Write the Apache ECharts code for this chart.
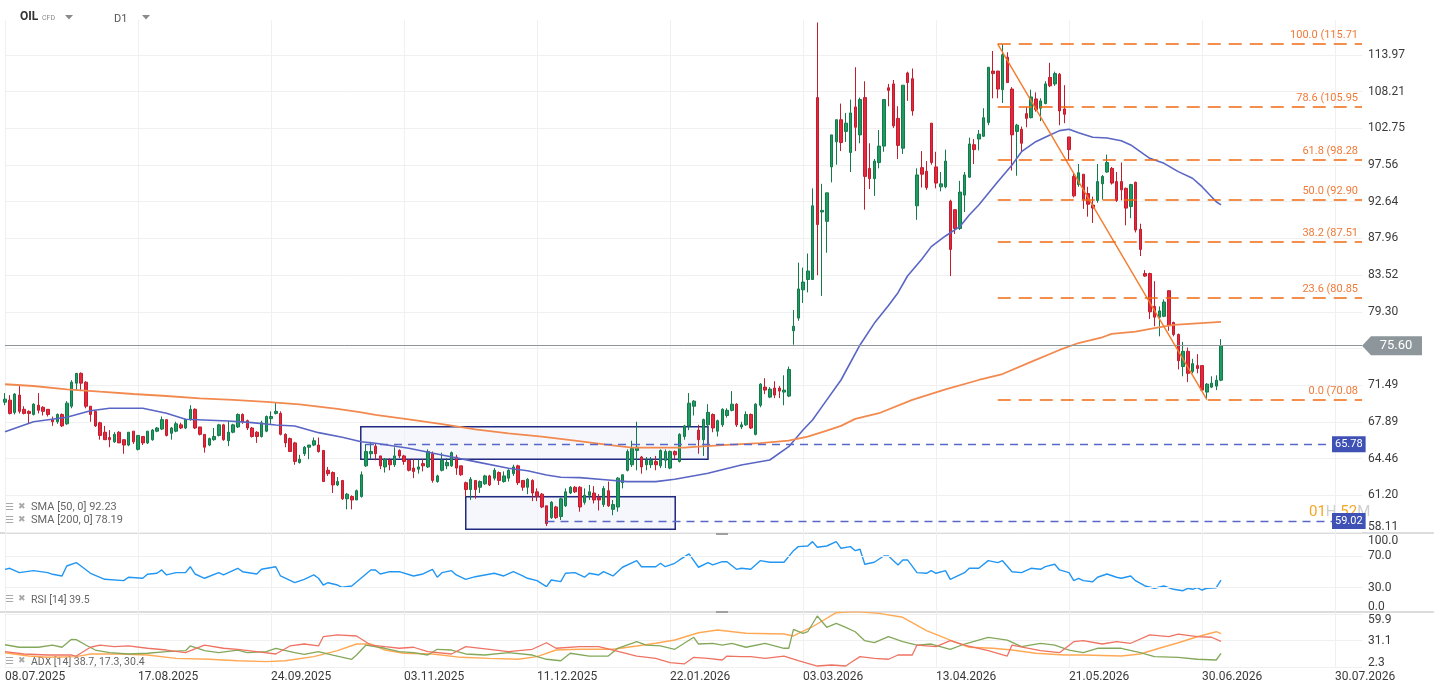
<!DOCTYPE html>
<html><head><meta charset="utf-8">
<script src="https://cdn.jsdelivr.net/npm/echarts/dist/echarts.min.js"></script>
<style>html,body{margin:0;padding:0;background:#fff}#c{width:1434px;height:694px}</style>
</head><body><div id="c"></div>
<script>
// ---------- data ----------
const dateLabels = ['08.07.2025','17.08.2025','24.09.2025','03.11.2025','11.12.2025','22.01.2026','03.03.2026','13.04.2026','21.05.2026','30.06.2026','30.07.2026'];
const barsPerLabel = 28;
const priceTickLabels = ['58.11','61.20','64.46','67.89','71.49','75.30','79.30','83.52','87.96','92.64','97.56','102.75','108.21','113.97'];
const rsiTickLabels = {0: '0.0', 30: '30.0', 70: '70.0', 100: '100.0'};
const adxTickLabels = ['2.3', '31.1', '59.9'];
// candles: [open, close, low, high]
const candles = [
[69.8,70.1,69.5,70.7],[70.0,68.7,68.6,70.5],[68.8,70.6,68.6,70.7],[70.5,68.9,68.7,71.4],[69.1,68.7,68.6,69.4],
[68.9,68.7,67.7,69.0],[68.6,69.6,68.5,69.7],[69.5,69.0,68.7,70.7],[69.3,68.9,68.5,69.4],[69.1,68.6,68.4,69.1],
[68.1,67.9,67.5,68.4],[67.9,68.6,67.7,68.7],[68.6,67.5,67.4,68.7],[67.7,69.7,67.6,69.9],[69.4,71.8,69.2,72.0],
[71.7,72.7,71.0,72.7],[72.7,71.7,70.9,72.8],[71.8,69.4,69.2,71.9],[69.4,68.6,67.9,69.4],[68.9,67.5,67.4,69.0],
[67.8,66.6,66.2,67.9],[66.9,66.2,66.2,67.5],[66.4,66.2,65.5,67.1],[66.0,66.7,65.9,66.9],[66.9,65.9,65.9,67.0],
[66.2,65.7,64.9,66.2],[65.7,66.9,65.6,66.9],[67.0,66.0,65.8,67.0],[65.3,66.6,65.2,66.6],[66.5,65.9,65.7,66.5],
[65.9,67.0,65.8,67.0],[66.2,67.1,66.1,67.2],[67.0,67.3,66.9,67.4],[67.2,68.1,67.1,68.4],[68.1,66.6,66.5,68.1],
[66.8,67.3,66.2,67.4],[67.0,67.7,66.9,67.9],[67.6,67.3,67.2,67.8],[67.3,68.1,67.2,68.2],[68.1,69.1,68.0,69.5],
[69.1,67.3,67.2,69.2],[67.4,66.7,66.6,67.4],[66.7,65.5,65.0,66.7],[65.7,66.3,65.6,66.4],[66.2,66.5,66.1,67.3],
[66.6,67.6,66.5,67.7],[67.6,66.2,66.1,67.7],[66.1,66.9,65.6,68.0],[66.9,67.6,66.8,67.7],[67.4,68.6,67.3,68.7],
[68.6,67.9,67.7,68.7],[68.0,67.3,67.1,68.1],[67.3,66.5,66.4,67.4],[66.9,66.5,65.9,67.0],[66.5,67.8,66.4,68.0],
[67.0,68.4,66.9,68.5],[68.2,68.4,67.7,68.9],[68.7,68.9,68.6,69.8],[68.7,66.7,66.6,68.9],[66.7,65.9,65.5,66.8],
[66.3,65.1,65.1,66.4],[65.9,64.2,63.9,66.0],[64.1,64.4,64.0,64.8],[64.9,65.5,64.7,65.6],[65.5,65.7,64.4,65.7],
[65.7,66.1,65.6,66.4],[65.7,65.1,65.0,66.4],[65.2,62.4,62.4,65.2],[63.4,63.1,62.9,63.7],[63.2,62.1,61.4,63.3],
[62.1,62.4,62.0,62.8],[62.5,60.9,60.8,62.5],[60.9,61.3,60.0,61.4],[61.1,60.8,60.0,61.2],[60.8,61.6,60.8,61.7],
[61.1,63.0,61.0,63.3],[63.8,65.1,63.7,65.8],[64.9,65.1,64.4,66.0],[65.6,64.9,64.3,65.8],[64.7,63.8,63.5,64.7],
[63.7,64.4,63.2,64.5],[64.3,63.9,63.4,64.5],[63.9,64.7,63.7,65.5],[65.2,64.7,64.5,65.3],[64.7,64.2,63.9,64.8],
[64.3,63.4,63.3,64.4],[63.6,63.3,62.7,64.4],[63.5,63.7,63.1,64.4],[64.0,63.8,63.3,64.4],[63.7,65.1,63.6,65.3],
[64.9,62.5,62.3,65.1],[62.4,62.9,62.3,63.0],[63.4,64.3,63.3,65.0],[63.8,64.1,63.5,64.5],[63.8,65.0,63.7,65.1],
[64.6,63.6,63.0,64.8],[63.8,63.0,62.9,63.8],[62.3,61.7,61.1,62.4],[61.7,62.6,60.8,62.8],[62.5,61.7,60.9,62.5],
[61.9,62.4,61.4,62.5],[62.2,62.9,62.1,63.0],[62.9,62.1,62.0,63.0],[62.7,63.4,62.5,63.6],[63.2,62.5,62.1,63.3],
[62.4,62.9,62.3,63.3],[62.7,63.4,62.4,63.5],[63.1,63.7,62.9,63.9],[63.8,62.3,62.1,63.9],[62.5,61.9,61.6,62.5],
[61.9,62.6,61.3,62.7],[62.5,61.4,60.7,62.6],[61.5,61.1,60.7,61.8],[61.3,60.2,60.1,61.4],[60.3,58.8,58.6,60.3],
[59.3,60.6,59.2,60.7],[60.2,59.3,59.2,60.3],[59.4,60.9,59.1,61.0],[60.3,61.5,60.2,61.8],[61.4,61.9,61.3,62.0],
[61.9,61.5,61.4,62.0],[61.9,60.2,59.8,62.0],[60.6,61.2,60.4,61.8],[61.2,61.5,60.8,62.1],[61.4,60.8,60.5,62.0],
[61.0,60.8,59.9,61.3],[60.4,61.8,60.2,62.0],[61.6,60.3,60.2,62.4],[60.0,60.4,59.5,60.8],[60.2,62.7,59.8,62.8],
[62.3,63.0,61.8,63.0],[63.4,65.1,63.3,65.3],[63.9,65.4,63.7,66.1],[65.2,65.5,63.4,67.9],[64.6,63.7,63.1,64.7],
[63.9,64.3,63.4,64.6],[63.9,64.3,63.6,64.6],[64.2,63.9,63.4,64.7],[63.8,65.2,63.6,65.3],[64.3,65.1,63.6,65.3],
[63.6,65.1,63.5,65.2],[65.1,64.8,64.4,65.2],[64.2,66.7,64.1,66.8],[66.5,67.5,66.2,67.6],[67.5,69.7,67.1,70.7],
[69.4,69.9,68.5,70.0],[67.1,66.2,64.9,67.6],[66.2,68.1,64.7,68.2],[67.6,68.8,67.4,69.6],[68.6,67.3,66.9,68.7],
[67.0,68.0,66.5,68.1],[67.6,69.1,67.4,69.2],[68.5,69.0,68.3,69.2],[69.0,69.6,68.9,70.9],[69.6,67.6,67.4,69.7],
[67.4,67.6,67.2,67.9],[67.6,68.6,67.5,68.9],[68.6,67.3,67.2,68.7],[66.7,69.6,66.6,69.7],[69.5,71.6,69.3,71.7],
[71.3,71.0,70.6,72.2],[70.3,71.1,70.2,71.3],[71.2,70.5,70.2,71.9],[71.2,70.9,70.2,71.4],[70.8,71.0,69.5,72.5],
[70.4,73.1,70.3,73.4],[77.2,77.7,75.7,79.5],[78.6,81.9,78.3,85.0],[81.8,82.7,80.3,84.4],[83.0,84.0,81.5,86.1],
[83.0,92.1,83.0,94.4],[107.3,89.7,83.5,119.3],[91.3,91.5,81.1,95.0],[90.1,93.8,86.2,93.8],[97.3,101.8,95.2,101.8],
[100.8,104.0,97.6,104.0],[104.0,100.7,99.5,106.4],[102.3,103.5,100.8,105.0],[99.3,105.0,96.6,107.0],[105.9,102.9,99.5,112.0],
[101.8,107.0,100.6,107.3],[107.3,96.0,91.6,109.8],[97.1,95.7,94.3,100.6],[95.7,98.1,93.4,98.4],[97.9,100.2,97.1,102.5],
[100.2,107.0,99.4,107.0],[108.8,108.4,106.0,109.4],[109.4,103.1,102.8,110.0],[104.2,100.3,98.4,106.0],[99.9,109.2,99.1,109.2],
[111.1,109.6,106.8,111.3],[110.2,105.3,104.6,111.8],[92.1,96.2,90.3,97.1],[97.2,96.3,94.5,99.5],[96.7,94.5,94.2,98.1],
[103.5,97.9,97.6,103.5],[97.3,95.1,94.4,99.4],[94.6,95.0,94.0,96.6],[94.6,98.1,94.4,99.7],[92.7,86.6,83.4,92.9],
[91.6,89.2,88.5,91.6],[89.2,93.9,89.0,95.4],[93.5,96.2,91.3,96.6],[95.9,100.5,95.8,101.4],[100.4,99.7,97.7,101.2],
[101.2,101.9,99.6,102.5],[101.6,104.3,101.5,105.7],[103.6,112.0,103.2,112.0],[111.4,111.0,107.2,114.6],[111.4,108.6,107.2,111.4],
[108.5,114.0,106.5,115.71],[113.6,109.6,109.6,114.4],[108.6,101.8,96.8,108.9],[102.3,103.2,96.1,103.4],[102.6,100.6,99.5,103.0],
[104.9,104.2,102.9,105.9],[104.3,107.4,104.2,108.5],[107.1,105.5,105.2,108.1],[105.7,106.8,103.8,107.2],[106.4,109.4,106.3,109.8],
[110.4,109.1,108.9,112.7],[109.4,111.0,109.1,111.3],[110.9,105.3,103.2,111.1],[105.6,104.8,103.5,109.2],[101.5,99.7,98.3,101.5],
[96.0,93.4,93.2,96.4],[94.9,96.5,94.6,97.7],[96.3,92.9,91.7,96.3],[93.7,92.3,90.7,94.6],[92.2,91.8,89.9,93.3],
[92.8,95.3,92.5,97.7],[95.0,96.0,92.9,96.2],[96.6,97.9,96.5,99.0],[97.1,95.1,94.9,97.3],[95.3,92.8,92.6,96.6],
[95.3,94.2,92.8,97.9],[94.4,91.8,89.6,94.5],[92.0,94.9,90.5,95.0],[95.2,89.0,88.7,95.3],[89.1,86.6,85.8,89.8],
[83.7,83.4,83.3,84.1],[83.7,79.3,78.5,83.8],[79.9,78.7,77.7,82.8],[78.7,79.4,76.6,79.9],[78.8,80.4,78.7,80.7],
[81.7,77.8,77.2,81.7],[78.1,76.8,76.6,78.2],[76.8,74.0,73.1,76.9],[73.4,75.0,72.4,76.0],[75.0,72.7,71.8,75.4],
[72.9,73.7,72.7,74.2],[73.5,73.2,72.7,74.7],[73.5,71.0,70.9,73.5],[70.8,71.6,70.08,71.7],[71.3,71.7,71.2,72.4],
[71.4,72.0,71.0,72.5],[72.0,75.6,71.9,76.3]
];
// moving averages: [bar index, value]
const sma50 = [[0,66.95],[6,67.90],[13,68.33],[18,68.96],[22,69.20],[29,69.20],[34,68.72],[38,68.13],[47,67.97],[52,67.81],[57,67.59],[61,67.49],[66,66.86],[71,66.42],[75,66.01],[78,65.86],[85,65.40],[92,64.79],[99,64.18],[106,63.58],[110,63.36],[114,62.98],[117,62.78],[121,62.75],[127,62.54],[131,62.39],[137,62.39],[141,62.60],[146,62.98],[148,63.13],[155,63.88],[161,64.33],[165,65.55],[168,67.11],[170,68.07],[172,69.36],[176,72.02],[180,75.67],[183,78.02],[186,80.0],[188,81.47],[190,83.41],[193,85.40],[195,86.94],[198,88.26],[201,89.43],[203,90.91],[205,92.20],[209,95.29],[212,97.57],[214,99.41],[217,100.83],[220,101.79],[222,102.41],[224,102.61],[226,102.12],[229,101.45],[232,101.35],[235,100.97],[237,100.36],[241,98.49],[244,97.79],[247,96.65],[250,95.75],[252,94.62],[255,92.63],[256,92.23]];
const sma200 = [[0,71.59],[6,71.41],[13,71.08],[20,70.84],[27,70.61],[34,70.41],[41,70.18],[48,70.02],[55,69.82],[62,69.59],[70,69.15],[75,68.81],[78,68.55],[85,68.13],[92,67.68],[99,67.18],[106,66.80],[113,66.48],[120,66.11],[127,65.71],[132,65.46],[138,65.46],[143,65.46],[146,65.55],[152,65.71],[159,65.87],[165,66.11],[169,66.49],[173,67.05],[176,67.50],[179,68.17],[184,68.72],[191,70.02],[198,71.08],[205,72.02],[210,72.63],[216,73.88],[222,75.14],[226,75.88],[231,76.50],[233,76.86],[238,77.11],[242,77.48],[246,77.84],[251,78.02],[256,78.19]];
const rsi = [[0,53.2],[1,54.5],[3,49.0],[6,51.5],[9,49.0],[10,46.9],[12,44.8],[13,57.4],[15,61.6],[16,57.4],[18,48.2],[21,40.6],[25,38.9],[26,43.2],[29,41.9],[30,46.9],[32,48.2],[33,52.4],[34,46.1],[36,49.0],[38,49.0],[39,56.5],[40,47.3],[42,41.9],[45,49.0],[46,46.1],[49,54.5],[50,50.2],[53,47.3],[54,53.2],[57,56.5],[58,44.8],[61,36.3],[63,40.6],[65,46.1],[66,41.9],[67,33.4],[68,36.3],[70,33.4],[71,30.5],[73,32.2],[77,52.4],[78,52.4],[79,47.3],[81,50.2],[83,50.2],[86,44.8],[88,47.3],[90,53.2],[91,43.2],[92,49.0],[94,51.5],[95,46.1],[97,40.6],[99,43.9],[101,46.1],[103,48.2],[105,44.8],[107,50.2],[109,44.8],[110,41.9],[112,38.9],[114,31.3],[115,39.7],[117,37.6],[118,48.2],[120,49.0],[122,43.2],[123,48.2],[125,46.1],[126,50.2],[128,44.8],[130,55.8],[133,64.1],[134,56.5],[137,56.5],[138,60.8],[139,56.5],[141,60.8],[142,65.0],[144,72.6],[146,55.8],[148,61.6],[149,58.7],[151,62.8],[152,62.8],[154,53.2],[155,54.5],[157,53.2],[159,64.1],[161,62.1],[164,62.1],[166,76.7],[167,81.8],[169,82.6],[170,88.1],[171,81.0],[173,82.6],[175,88.1],[176,79.7],[178,81.8],[179,76.7],[180,78.5],[181,59.6],[183,62.1],[185,70.0],[186,70.0],[188,58.7],[189,65.0],[190,65.0],[192,49.0],[194,48.2],[195,51.5],[196,48.2],[198,51.5],[199,40.6],[202,49.0],[203,54.5],[205,54.5],[207,64.1],[209,61.6],[210,64.1],[212,50.2],[214,49.0],[216,54.5],[218,53.2],[219,56.5],[221,59.6],[222,52.4],[224,49.0],[225,38.9],[226,41.9],[227,38.9],[229,37.6],[230,43.2],[232,47.3],[234,43.2],[235,41.9],[237,44.8],[238,38.9],[240,32.2],[242,29.3],[244,32.2],[246,28.0],[248,26.2],[249,29.3],[250,28.0],[251,30.0],[252,27.1],[253,29.3],[255,30.0],[256,39.5]];
const adx = [[0,18.1],[5,14.5],[9,13.1],[15,13.8],[18,16.7],[24,16.7],[30,15.6],[36,12.0],[43,11.0],[49,9.4],[55,8.4],[59,9.4],[65,13.8],[70,20.3],[74,27.5],[77,27.5],[80,21.0],[84,17.5],[90,16.7],[96,13.1],[102,12.0],[108,11.0],[112,13.8],[116,21.0],[121,21.8],[128,21.8],[133,25.4],[137,28.3],[141,31.8],[146,39.7],[150,42.7],[156,39.1],[164,38.3],[166,36.2],[170,46.2],[175,61.4],[179,62.5],[184,60.7],[189,56.4],[194,41.9],[199,31.8],[203,24.0],[208,22.9],[212,21.0],[217,17.5],[223,15.6],[227,15.6],[235,14.5],[239,16.7],[243,22.9],[247,28.9],[251,35.4],[255,40.8],[256,38.7]];
const plusDI = [[0,26.7],[3,24.0],[7,24.0],[10,26.4],[12,24.0],[14,32.6],[15,32.2],[17,26.4],[19,21.0],[22,18.1],[26,16.7],[30,17.5],[34,19.2],[38,20.3],[39,25.4],[42,20.3],[45,18.1],[49,21.0],[51,18.1],[55,19.2],[57,22.9],[61,18.1],[63,16.4],[66,19.2],[69,15.6],[73,11.0],[74,15.6],[76,26.4],[80,22.9],[83,19.2],[86,18.1],[89,15.6],[91,21.8],[94,21.0],[97,16.7],[101,15.6],[106,18.1],[111,15.6],[114,11.0],[117,9.4],[119,17.5],[123,14.5],[127,14.5],[129,22.9],[133,30.0],[135,26.4],[138,25.4],[141,21.8],[145,34.8],[146,27.5],[149,28.3],[151,26.4],[153,28.3],[156,24.0],[160,28.3],[164,22.9],[165,22.9],[166,43.4],[168,39.1],[169,40.8],[171,57.8],[173,45.6],[175,49.9],[177,45.6],[179,40.8],[181,31.1],[183,28.9],[186,35.4],[189,30.0],[192,26.4],[195,27.5],[199,21.8],[202,27.5],[207,34.8],[211,31.8],[214,24.6],[218,28.3],[221,26.4],[224,21.0],[227,18.1],[230,22.9],[235,22.9],[239,18.1],[242,13.8],[247,13.1],[251,11.0],[255,10.2],[256,17.3]];
const minusDI = [[0,19.2],[4,16.7],[9,15.6],[14,15.6],[15,14.5],[18,24.0],[20,26.4],[23,24.6],[26,25.4],[30,22.9],[34,21.0],[38,18.1],[42,26.4],[46,22.9],[49,21.8],[53,19.2],[57,16.7],[60,25.4],[63,27.5],[66,25.4],[67,35.4],[70,37.3],[74,36.2],[77,26.4],[80,24.6],[83,22.9],[86,24.0],[89,19.2],[94,16.7],[97,24.6],[102,21.8],[106,19.2],[111,21.8],[114,28.9],[116,22.9],[121,24.6],[125,24.6],[128,21.0],[133,14.5],[137,12.0],[140,7.3],[143,5.9],[145,13.1],[148,12.0],[151,10.2],[152,14.5],[155,13.8],[157,13.8],[160,12.0],[164,14.5],[167,9.4],[171,3.7],[174,4.8],[177,3.7],[178,7.3],[180,13.8],[183,12.0],[186,11.0],[188,15.6],[191,15.6],[192,26.4],[196,24.6],[199,31.1],[202,26.4],[207,20.3],[211,14.5],[212,26.4],[218,20.3],[222,18.1],[225,30.0],[227,31.1],[231,27.5],[234,30.0],[237,28.3],[241,37.3],[245,35.4],[247,38.3],[251,35.4],[254,34.8],[256,30.4]];
const lastPrice = 75.60;
const fibHigh = 115.71, fibLow = 70.08, fibHighBar = 209, fibLowBar = 253;
const fibLevels = [100, 78.6, 61.8, 50, 38.2, 23.6, 0];
const supports = [{price: 65.78, fromBar: 76}, {price: 59.02, fromBar: 114}];
const zones = [{fromBar: 74.9, toBar: 148, top: 67.43, bottom: 64.39}, {fromBar: 97, toBar: 141.1, top: 61.08, bottom: 58.33}];
const legendSMA50 = 'SMA [50, 0] 92.23', legendSMA200 = 'SMA [200, 0] 78.19';
const legendRSI = 'RSI [14] 39.5', legendADX = 'ADX [14] 38.7, 17.3, 30.4';
// price axis: log scale, one tick step = x1.05318 starting at 58.11
const PRICE_BASE = 58.11, PRICE_STEP = 1.05318;
const ADX_BASE = 2.3, ADX_STEP = 28.8;

// ---------- layout ----------
const GL = 5, GR = 1362, BAR = 4.75;
const X_MAX = (GR - GL) / BAR;
const SUPPORT_END = (1332 - GL) / BAR;
const ys = p => Math.log(p / PRICE_BASE) / Math.log(PRICE_STEP);
const r2 = v => (Math.round((v + 1e-9) * 100) / 100).toFixed(2);
const FONT = 'Roboto';
const gridColor = '#f0f0f0';
const isInt = v => Math.abs(v - Math.round(v)) < 1e-6;

const chart = echarts.init(document.getElementById('c'), null, {renderer: 'canvas'});

const fibMarks = fibLevels.map(lv => {
  const p = fibLow + (fibHigh - fibLow) * lv / 100;
  return [{coord: [fibHighBar, ys(p)], lineStyle: {color: '#ef6a12', type: [13, 8], width: 1.5},
           label: {show: true, position: 'insideEndTop', formatter: lv.toFixed(1) + ' (' + r2(p), color: '#f07a38', fontSize: 11, fontFamily: FONT, distance: [4, 3]}},
          {coord: [X_MAX, ys(p)]}];
});
const supportMarks = supports.map(s => [
  {coord: [s.fromBar, ys(s.price)], lineStyle: {color: '#5868c6', type: [8, 6], width: 1.3},
   label: {show: true, position: 'end', formatter: s.price.toFixed(2), backgroundColor: '#3f51b5', color: '#fff', fontSize: 11, fontFamily: FONT, padding: [3, 3, 2, 3], distance: 0}},
  {coord: [SUPPORT_END, ys(s.price)]}]);
const trendMark = [{coord: [fibHighBar, ys(fibHigh)], lineStyle: {color: '#f47b2c', type: 'solid', width: 1.4}, label: {show: false}},
                   {coord: [fibLowBar, ys(fibLow)]}];
const lastMark = {yAxis: ys(lastPrice), lineStyle: {color: '#8d969b', type: 'solid', width: 1}, label: {show: false}};

const xAxisBase = (gi, showLabel) => ({
  type: 'value', gridIndex: gi, min: 0, max: X_MAX, interval: barsPerLabel,
  axisLine: {show: false}, axisTick: {show: false},
  splitLine: {show: true, showMaxLine: false, lineStyle: {color: gridColor, width: 1}},
  axisLabel: {show: showLabel, showMaxLabel: false, align: 'left', margin: 4, color: '#3b3b3b', fontSize: 12, fontFamily: FONT,
    formatter: v => (isInt(v / barsPerLabel) ? (dateLabels[Math.round(v / barsPerLabel)] || '') : '')}
});
const labelStyle = {color: '#3b3b3b', fontSize: 12, fontFamily: FONT};

const option = {
  animation: false,
  backgroundColor: '#ffffff',
  grid: [
    {left: GL, width: GR - GL, top: 20, height: 512},
    {left: GL, width: GR - GL, top: 532.2, height: 79.3},
    {left: GL, width: GR - GL, top: 612.3, height: 55}
  ],
  xAxis: [xAxisBase(0, false), xAxisBase(1, false), xAxisBase(2, true)],
  yAxis: [
    {type: 'value', gridIndex: 0, position: 'right', min: 0, max: 512 / 36.7, interval: 1,
     axisLine: {show: false}, axisTick: {show: false},
     splitLine: {show: true, showMaxLine: false, lineStyle: {color: gridColor}},
     axisLabel: Object.assign({}, labelStyle, {margin: 6, showMaxLabel: false,
       formatter: v => { if (!isInt(v)) return ''; const t = priceTickLabels[Math.round(v)] || ''; return Math.round(v) === 0 ? '{lo|' + t + '}' : t; },
       rich: {lo: Object.assign({}, labelStyle, {padding: [0, 0, 11, 0]})}})},
    {type: 'value', gridIndex: 1, position: 'right', min: 0, max: 100, interval: 10,
     axisLine: {show: false}, axisTick: {show: false}, splitLine: {show: false},
     axisLabel: Object.assign({}, labelStyle, {margin: 6,
       formatter: v => { const k = Math.round(v); const t = rsiTickLabels[k]; if (!t) return ''; return k === 100 ? '{hi|' + t + '}' : k === 0 ? '{lo|' + t + '}' : t; },
       rich: {hi: Object.assign({}, labelStyle, {padding: [17, 0, 0, 0]}), lo: Object.assign({}, labelStyle, {padding: [0, 0, 10, 0]})}})},
    {type: 'value', gridIndex: 2, position: 'right', min: 0, max: 55 / 0.924, interval: ADX_STEP,
     axisLine: {show: false}, axisTick: {show: false},
     splitLine: {show: true, showMaxLine: false, lineStyle: {color: gridColor}},
     axisLabel: Object.assign({}, labelStyle, {margin: 6, showMaxLabel: false,
       formatter: v => { const k = v / ADX_STEP; if (!isInt(k)) return ''; const i = Math.round(k); const t = adxTickLabels[i] || ''; if (i === 0) return '{lo|' + t + '}'; if (i === 2) return '{hi|' + t + '}'; return t; },
       rich: {hi: Object.assign({}, labelStyle, {padding: [12, 0, 0, 0]}), lo: Object.assign({}, labelStyle, {padding: [0, 0, 9, 0]})}})}
  ],
  series: [
    {type: 'candlestick', xAxisIndex: 0, yAxisIndex: 0, barWidth: 3, clip: false,
     encode: {x: 0, y: [1, 2, 3, 4]},
     data: candles.map((c, i) => [i, ys(c[0]), ys(c[1]), ys(c[2]), ys(c[3])]),
     itemStyle: {color: '#1e9a62', color0: '#e5283b', borderColor: '#137a4a', borderColor0: '#c11d2f', borderWidth: 1},
     markArea: {silent: true, itemStyle: {color: 'rgba(238,241,251,0.6)', borderColor: '#1f2a80', borderWidth: 1.5},
       data: zones.map(z => [{coord: [z.fromBar, ys(z.top)]}, {coord: [z.toBar, ys(z.bottom)]}])},
     markLine: {silent: true, symbol: ['none', 'none'], animation: false,
       data: [lastMark, trendMark].concat(fibMarks, supportMarks)},
     markPoint: {silent: true, symbol: 'path://M0,9 L9,0 L60,0 L60,18 L9,18 Z', symbolSize: [60, 19], symbolOffset: [30, 0],
       itemStyle: {color: '#8d969b'},
       label: {show: true, position: 'inside', color: '#fff', fontSize: 13, fontFamily: FONT, offset: [4, 0], formatter: lastPrice.toFixed(2)},
       data: [{coord: [X_MAX, ys(lastPrice)], value: lastPrice}]}
    },
    {type: 'line', xAxisIndex: 0, yAxisIndex: 0, showSymbol: false, data: sma50.map(d => [d[0], ys(d[1])]),
     lineStyle: {color: '#5a66c4', width: 1.6}, z: 3},
    {type: 'line', xAxisIndex: 0, yAxisIndex: 0, showSymbol: false, data: sma200.map(d => [d[0], ys(d[1])]),
     lineStyle: {color: '#f28a50', width: 1.8}, z: 3},
    {type: 'line', xAxisIndex: 1, yAxisIndex: 1, showSymbol: false, data: rsi,
     lineStyle: {color: '#2196f3', width: 1.4},
     markLine: {silent: true, symbol: ['none', 'none'], label: {show: false}, lineStyle: {color: gridColor, type: 'solid', width: 1},
       data: [{yAxis: 30}, {yAxis: 70}]}},
    {type: 'line', xAxisIndex: 2, yAxisIndex: 2, showSymbol: false, data: adx.map(d => [d[0], d[1] - ADX_BASE]),
     lineStyle: {color: '#ffa955', width: 1.4}},
    {type: 'line', xAxisIndex: 2, yAxisIndex: 2, showSymbol: false, data: plusDI.map(d => [d[0], d[1] - ADX_BASE]),
     lineStyle: {color: '#84a85a', width: 1.3}},
    {type: 'line', xAxisIndex: 2, yAxisIndex: 2, showSymbol: false, data: minusDI.map(d => [d[0], d[1] - ADX_BASE]),
     lineStyle: {color: '#ef7363', width: 1.3}}
  ],
  graphic: [
    {type: 'text', x: 20, y: 11, style: {text: 'OIL', font: 'bold 12px Roboto', fill: '#333'}},
    {type: 'text', x: 42, y: 15, style: {text: 'CFD', font: '7px Roboto', fill: '#888'}},
    {type: 'polygon', shape: {points: [[65, 15], [73, 15], [69, 19.5]]}, style: {fill: '#8a8a8a'}},
    {type: 'text', x: 114, y: 14, style: {text: 'D1', font: '11px Roboto', fill: '#555'}},
    {type: 'polygon', shape: {points: [[142, 15], [150, 15], [146, 19.5]]}, style: {fill: '#8a8a8a'}},
    {type: 'rect', shape: {x: 0, y: 532, width: 1434, height: 2}, style: {fill: '#dcdcdc'}},
    {type: 'rect', shape: {x: 0, y: 611, width: 1434, height: 2}, style: {fill: '#dcdcdc'}},
    {type: 'rect', shape: {x: 716, y: 533, width: 12, height: 2}, style: {fill: '#a0a0a0'}},
    {type: 'rect', shape: {x: 716, y: 611, width: 12, height: 2}, style: {fill: '#a0a0a0'}},
    {type: 'text', x: 5, y: 502, style: {text: '☰', font: '10px "DejaVu Sans"', fill: '#aaa'}},
    {type: 'text', x: 18, y: 502, style: {text: '✖', font: '9px "DejaVu Sans"', fill: '#aaa'}},
    {type: 'text', x: 31, y: 502, style: {text: legendSMA50, font: '11px Roboto', fill: '#666'}},
    {type: 'text', x: 5, y: 515, style: {text: '☰', font: '10px "DejaVu Sans"', fill: '#aaa'}},
    {type: 'text', x: 18, y: 515, style: {text: '✖', font: '9px "DejaVu Sans"', fill: '#aaa'}},
    {type: 'text', x: 31, y: 515, style: {text: legendSMA200, font: '11px Roboto', fill: '#666'}},
    {type: 'text', x: 5, y: 594, style: {text: '☰', font: '10px "DejaVu Sans"', fill: '#aaa'}},
    {type: 'text', x: 18, y: 594, style: {text: '✖', font: '9px "DejaVu Sans"', fill: '#aaa'}},
    {type: 'text', x: 31, y: 595, style: {text: legendRSI, font: '10.5px Roboto', fill: '#666'}},
    {type: 'text', x: 5, y: 656, style: {text: '☰', font: '10px "DejaVu Sans"', fill: '#aaa'}},
    {type: 'text', x: 18, y: 656, style: {text: '✖', font: '9px "DejaVu Sans"', fill: '#aaa'}},
    {type: 'text', x: 31, y: 657, style: {text: legendADX, font: '10.5px Roboto', fill: '#666'}},
    {type: 'text', x: 1309, y: 505, style: {text: '{o|01}{g|H }{o|52}{g|M}',
      rich: {o: {fill: '#f5a623', font: '15px Roboto'}, g: {fill: '#cfcfcf', font: '15px Roboto'}}}}
  ]
};
chart.setOption(option);
</script>
</body></html>
